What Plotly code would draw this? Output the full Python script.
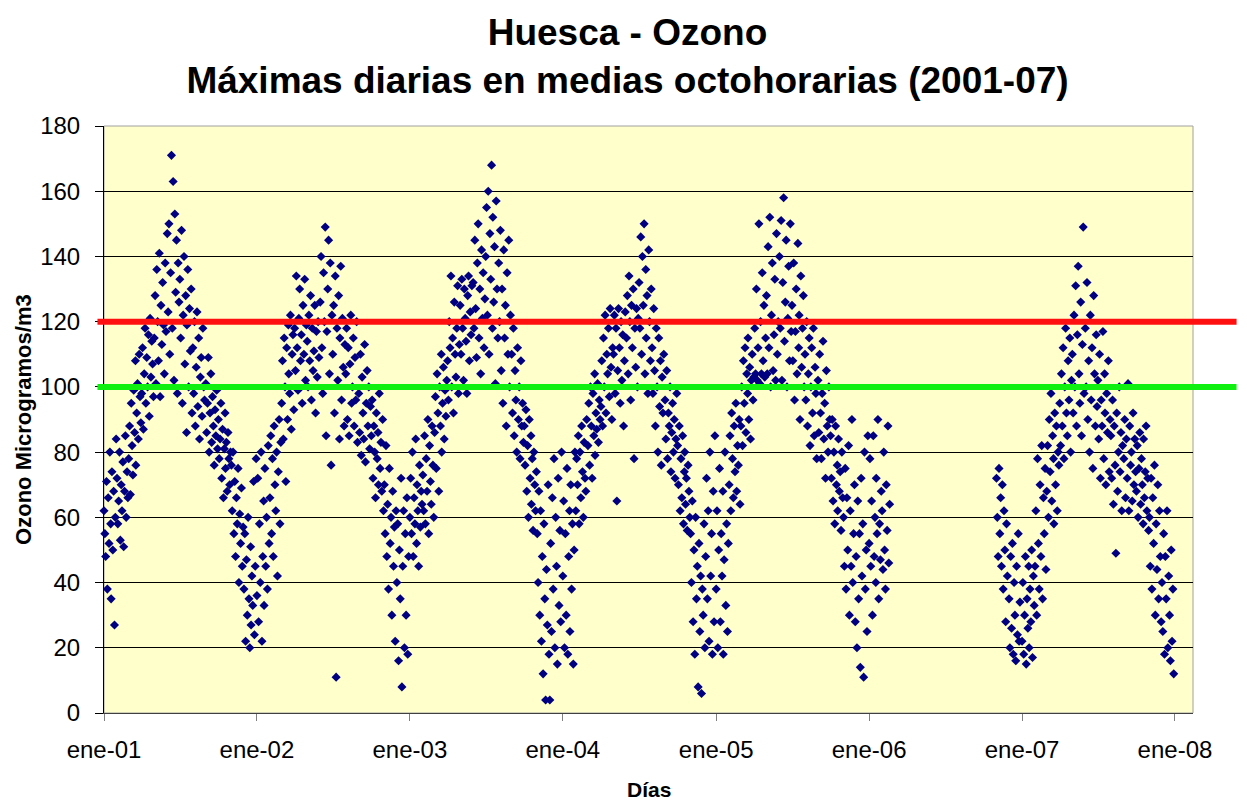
import calendar
import datetime as dt
import plotly.graph_objects as go

# Daily maxima of 8-hour means (ug/m3), one list per month,
# roughly one value every two days.
y2001 = [
    [62, 55, 48, 71, 38, 66, 52, 80, 58, 35, 74, 50, 68, 27, 60, 84],
    [72, 58, 65, 80, 53, 70, 62, 77, 51, 68, 85, 60, 74, 66],
    [78, 88, 67, 95, 82, 73, 99, 86, 108, 76, 92, 101, 84, 110, 97, 89],
    [98, 112, 87, 104, 118, 95, 109, 100, 116, 91, 121, 103, 114, 107, 97],
    [115, 128, 101, 136, 120, 108, 141, 97, 125, 113, 132, 119, 104, 138, 117],
    [147, 123, 150, 110, 135, 171, 118, 163, 102, 153, 129, 145, 98, 138, 126],
    [133, 115, 148, 95, 122, 140, 107, 128, 86, 119, 136, 100, 124, 111, 130, 92],
    [112, 98, 120, 88, 106, 123, 94, 115, 84, 103, 109, 91, 118, 100, 96],
    [101, 86, 95, 109, 80, 92, 104, 83, 97, 88, 76, 93, 85, 99, 81],
    [90, 78, 84, 95, 72, 87, 66, 81, 92, 75, 83, 68, 86, 78, 70, 80],
    [76, 62, 80, 55, 71, 48, 66, 58, 75, 40, 61, 52, 69, 45, 57],
    [38, 55, 22, 47, 30, 60, 35, 20, 51, 27, 42, 33, 71, 24, 45, 78],
]
y2002 = [
    [36, 72, 28, 58, 40, 80, 22, 48, 65, 33, 75, 45, 60, 38, 82, 52],
    [66, 85, 55, 78, 48, 88, 70, 62, 80, 42, 74, 90, 58, 83],
    [95, 108, 84, 115, 100, 71, 112, 90, 119, 104, 98, 122, 87, 110, 116, 93],
    [118, 105, 134, 112, 99, 121, 130, 108, 116, 95, 125, 110, 133, 102, 119],
    [114, 100, 122, 108, 128, 96, 118, 105, 111, 125, 92, 117, 103, 120, 109],
    [126, 140, 112, 98, 135, 120, 149, 85, 117, 130, 145, 104, 138, 76, 122],
    [110, 125, 92, 134, 11, 118, 102, 128, 84, 115, 137, 96, 121, 106, 88, 113],
    [104, 118, 90, 112, 85, 107, 122, 95, 100, 115, 88, 109, 96, 120, 83],
    [98, 86, 110, 79, 103, 92, 84, 113, 77, 95, 105, 88, 100, 81, 94],
    [85, 96, 72, 88, 80, 66, 92, 78, 86, 70, 98, 75, 83, 68, 90, 62],
    [70, 55, 82, 48, 64, 38, 75, 52, 60, 30, 68, 45, 57, 22, 62],
    [40, 58, 16, 50, 35, 72, 8, 45, 62, 20, 55, 30, 66, 18, 48],
]
y2003 = [
    [60, 72, 55, 80, 48, 66, 58, 84, 52, 70, 62, 45, 76, 57, 68, 64],
    [73, 62, 85, 58, 78, 68, 90, 55, 82, 71, 64, 88, 76, 60],
    [86, 97, 75, 104, 92, 68, 100, 88, 110, 80, 95, 106, 84, 99, 91, 102],
    [108, 96, 120, 112, 134, 100, 115, 92, 126, 110, 103, 118, 131, 98, 113],
    [125, 110, 133, 118, 102, 130, 121, 114, 98, 128, 134, 108, 123, 116, 131],
    [132, 118, 145, 124, 109, 138, 150, 115, 130, 104, 142, 121, 135, 112, 127],
    [140, 155, 122, 160, 110, 147, 133, 168, 118, 152, 126, 143, 101, 157, 130, 115],
    [138, 120, 148, 105, 130, 95, 142, 115, 125, 88, 135, 110, 145, 100, 122],
    [110, 92, 118, 85, 105, 96, 80, 112, 90, 100, 78, 108, 88, 95, 83],
    [88, 76, 93, 68, 82, 60, 90, 72, 85, 64, 78, 56, 80, 70, 62, 74],
    [55, 40, 68, 30, 62, 22, 48, 12, 58, 35, 4, 44, 27, 70, 18],
    [4, 52, 25, 66, 38, 78, 20, 60, 45, 15, 72, 33, 56, 28, 80],
]
y2004 = [
    [42, 65, 20, 55, 30, 75, 18, 48, 62, 25, 70, 38, 58, 15, 50, 80],
    [62, 78, 70, 85, 58, 80, 66, 88, 74, 60, 83, 72, 68, 90],
    [82, 95, 76, 100, 88, 72, 98, 85, 104, 79, 92, 87, 101, 83, 96, 90],
    [94, 108, 88, 115, 100, 122, 92, 110, 104, 118, 97, 124, 106, 90, 112],
    [110, 122, 98, 118, 65, 105, 124, 112, 95, 120, 102, 116, 88, 108, 123],
    [115, 128, 104, 134, 120, 96, 125, 112, 130, 78, 118, 106, 124, 100, 121],
    [132, 118, 146, 110, 140, 125, 150, 104, 136, 115, 128, 98, 142, 120, 108, 130],
    [112, 98, 124, 105, 88, 118, 100, 80, 115, 94, 108, 76, 103, 92, 110],
    [96, 84, 105, 78, 92, 88, 100, 74, 86, 95, 80, 90, 72, 84, 98],
    [82, 70, 88, 62, 78, 66, 85, 58, 74, 80, 64, 72, 56, 76, 68, 60],
    [55, 40, 65, 28, 50, 18, 60, 35, 45, 8, 52, 25, 42, 6, 38],
    [30, 58, 20, 48, 72, 35, 62, 22, 80, 42, 55, 18, 68, 28, 85],
]
y2005 = [
    [38, 62, 20, 50, 75, 28, 55, 42, 68, 18, 47, 80, 33, 58, 25, 52],
    [70, 85, 62, 92, 78, 66, 88, 74, 95, 68, 82, 76, 90, 64],
    [88, 100, 82, 108, 95, 112, 86, 104, 98, 115, 90, 106, 84, 102, 110, 96],
    [103, 118, 104, 130, 102, 112, 150, 101, 120, 104, 135, 108, 125, 103, 115],
    [128, 104, 143, 112, 152, 100, 122, 138, 105, 116, 133, 102, 147, 110, 120],
    [140, 118, 151, 102, 132, 158, 114, 126, 145, 100, 121, 137, 108, 150, 117],
    [125, 108, 138, 96, 117, 130, 104, 144, 112, 122, 90, 134, 106, 118, 128, 100],
    [110, 96, 120, 88, 104, 115, 82, 100, 112, 92, 118, 85, 106, 98, 78],
    [102, 86, 110, 92, 78, 98, 114, 84, 95, 72, 105, 88, 80, 100, 90],
    [85, 72, 90, 65, 80, 58, 88, 70, 76, 62, 84, 68, 74, 56, 80, 66],
    [60, 45, 75, 38, 66, 50, 82, 30, 62, 45, 90, 40, 55, 70, 28],
    [48, 20, 65, 35, 55, 14, 72, 42, 58, 11, 80, 38, 50, 25, 85],
]
y2006 = [
    [52, 78, 45, 65, 30, 85, 48, 60, 40, 72, 55, 90, 35, 58, 47, 68],
    [62, 44, 80, 50, 38, 70, 56, 88, 46, 64],
    [], [], [], [], [], [], [], [],
    [72, 60, 48, 75, 55, 66, 45, 70, 38, 62, 50, 28, 58, 42],
    [35, 20, 48, 26, 52, 18, 40, 30, 16, 45, 24, 55, 22, 34],
]
y2007 = [
    [22, 40, 18, 30, 48, 15, 35, 26, 45, 20, 38, 28, 50, 17, 42, 33],
    [45, 62, 30, 78, 52, 38, 70, 48, 82, 35, 66, 55, 75, 44],
    [68, 82, 60, 90, 74, 98, 65, 85, 78, 58, 92, 70, 88, 62, 80, 76],
    [95, 82, 104, 88, 112, 78, 100, 118, 92, 85, 108, 96, 115, 80, 102],
    [110, 92, 122, 100, 131, 88, 116, 137, 104, 95, 126, 85, 113, 149, 98],
    [118, 100, 132, 90, 108, 80, 122, 96, 112, 75, 128, 104, 88, 116, 94],
    [102, 84, 110, 72, 96, 88, 117, 78, 104, 92, 70, 98, 86, 108, 74, 90],
    [85, 72, 96, 64, 88, 76, 49, 92, 68, 80, 100, 74, 86, 62, 82],
    [78, 90, 66, 84, 72, 101, 62, 88, 76, 80, 65, 92, 70, 84, 74],
    [68, 82, 60, 75, 86, 64, 78, 70, 58, 84, 66, 74, 88, 62, 72, 56],
    [60, 45, 72, 38, 66, 52, 76, 30, 58, 44, 70, 35, 62, 48, 28],
    [40, 25, 55, 18, 48, 35, 62, 20, 42, 30, 16, 50, 22, 38, 12],
]
years = [2001, 2002, 2003, 2004, 2005, 2006, 2007]
series = [y2001, y2002, y2003, y2004, y2005, y2006, y2007]
tick_dates = ["2001-01-01", "2002-01-01", "2003-01-01", "2004-01-01",
              "2005-01-01", "2006-01-01", "2007-01-01", "2008-01-01"]
tick_text = ["ene-01", "ene-02", "ene-03", "ene-04", "ene-05", "ene-06", "ene-07", "ene-08"]
limit_info = 120
limit_target = 100

xs, ys = [], []
for yr, months in zip(years, series):
    for m, vals in enumerate(months, start=1):
        start = dt.date(yr, m, 1)
        dim = calendar.monthrange(yr, m)[1]
        step = min(2.0, dim / max(len(vals), 1))
        for i, v in enumerate(vals):
            xs.append(start + dt.timedelta(days=round(i * step)))
            ys.append(v)

FONT = "Liberation Sans, Arial, sans-serif"

fig = go.Figure()
fig.add_trace(go.Scatter(
    x=xs, y=ys, mode="markers",
    marker=dict(color="#000080", size=7, symbol="diamond",
                line=dict(width=0)),
    showlegend=False, cliponaxis=False,
))

fig.update_layout(
    width=1239, height=798,
    margin=dict(l=96, r=54, t=118, b=93),
    paper_bgcolor="white",
    plot_bgcolor="#FFFFCC",
    font=dict(family=FONT, color="black"),
    title=dict(
        text="<b>Huesca - Ozono</b><br><b>Máximas diarias en medias octohorarias (2001-07)</b>",
        x=0.5, xanchor="center", y=0.954, yanchor="middle",
        font=dict(size=37, family=FONT, color="black"),
    ),
    xaxis=dict(
        type="date",
        range=["2001-01-01", "2008-02-13"],
        tickmode="array", tickvals=tick_dates, ticktext=tick_text,
        ticks="outside", ticklen=7, tickcolor="#808080", tickwidth=1,
        ticklabelstandoff=8,
        showgrid=False, zeroline=False,
        showline=True, linecolor="#404040", linewidth=1,
        tickfont=dict(size=24, family=FONT, color="black"),
    ),
    yaxis=dict(
        range=[0, 180], dtick=20, tick0=0,
        ticks="outside", ticklen=8, tickcolor="black", tickwidth=1,
        ticklabelstandoff=10,
        showgrid=True, gridcolor="#000000", gridwidth=1,
        zeroline=False,
        showline=True, linecolor="black", linewidth=1,
        tickfont=dict(size=24, family=FONT, color="black"),
    ),
    shapes=[
        dict(type="rect", xref="paper", yref="paper", x0=0, x1=1, y0=0, y1=1,
             line=dict(color="#A0A0A0", width=1), layer="below"),
        dict(type="line", xref="paper", yref="y", x0=-0.006, x1=1.04,
             y0=limit_info, y1=limit_info, line=dict(color="#FF1010", width=6),
             layer="above"),
        dict(type="line", xref="paper", yref="y", x0=-0.006, x1=1.04,
             y0=limit_target, y1=limit_target, line=dict(color="#10F010", width=6),
             layer="above"),
    ],
    annotations=[
        dict(text="<b>Ozono Microgramos/m3</b>", xref="paper", yref="paper",
             x=-0.074, y=0.5, xanchor="center", yanchor="middle", textangle=-90,
             showarrow=False, font=dict(size=22, family=FONT, color="black")),
        dict(text="<b>Días</b>", xref="paper", yref="paper",
             x=0.5, y=-0.131, xanchor="center", yanchor="middle",
             showarrow=False, font=dict(size=21, family=FONT, color="black")),
    ],
)

fig.write_html("out.html")
